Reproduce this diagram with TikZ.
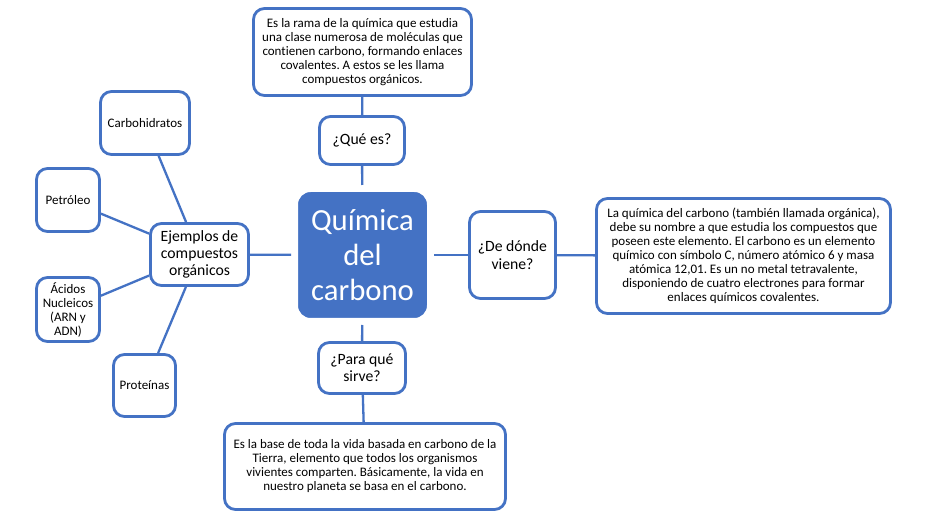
\documentclass[tikz,border=0pt]{standalone}
\usepackage{fontspec}
\setmainfont{Carlito}[Ligatures=NoCommon]
\frenchspacing
\definecolor{azul}{HTML}{4472C4}
\begin{document}
\begin{tikzpicture}[x=1pt,y=-1pt,
  caja/.style={draw=azul, line width=2.8pt, rounded corners=11pt, fill=white, align=center, inner sep=0pt, text=black},
  chico/.style={font=\fontsize{13}{14}\selectfont},
  grande/.style={font=\fontsize{15.7}{17.3}\selectfont},
  enlace/.style={draw=azul, line width=2.3pt},
  centro/.style={fill=azul, draw=white, line width=3pt, rounded corners=14pt, text=white, align=center, inner sep=0pt, font=\fontsize{30.7}{35}\selectfont}]
\useasboundingbox (0,0) rectangle (937,526);
\fill[white] (0,0) rectangle (937,526);
% nodes
\node[centro, minimum width=132pt, minimum height=129pt] (cen) at (362.5,255) {Química\\del\\carbono};
\node[caja, chico, minimum width=218pt, minimum height=87pt] (top) at (362.5,52) {Es la rama de la química que estudia\\una clase numerosa de moléculas que\\contienen carbono, formando enlaces\\covalentes. A estos se les llama\\compuestos orgánicos.};
\node[caja, grande, minimum width=85pt, minimum height=48pt] (que) at (362,140.5) {¿Qué es?};
\node[caja, grande, minimum width=86pt, minimum height=87pt] (donde) at (512.5,255) {¿De dónde\\viene?};
\node[caja, chico, minimum width=294pt, minimum height=115pt] (der) at (743.5,256) {La química del carbono (también llamada orgánica),\\debe su nombre a que estudia los compuestos que\\poseen este elemento. El carbono es un elemento\\químico con símbolo C, número atómico 6 y masa\\atómica 12,01. Es un no metal tetravalente,\\disponiendo de cuatro electrones para formar\\enlaces químicos covalentes.};
\node[caja, grande, minimum width=87pt, minimum height=51pt] (para) at (362,368) {¿Para qué\\sirve?};
\node[caja, chico, minimum width=281pt, minimum height=86pt] (abajo) at (365,466.5) {Es la base de toda la vida basada en carbono de la\\Tierra, elemento que todos los organismos\\vivientes comparten. Básicamente, la vida en\\nuestro planeta se basa en el carbono.};
\node[caja, grande, minimum width=98pt, minimum height=62pt] (ejem) at (199.5,254.5) {Ejemplos de\\compuestos\\orgánicos};
\node[caja, chico, minimum width=89pt, minimum height=63pt] (carbo) at (145,123) {Carbohidratos};
\node[caja, chico, minimum width=63pt, minimum height=63pt] (petro) at (68,200) {Petróleo};
\node[caja, chico, minimum width=63pt, minimum height=64pt] (acidos) at (68,309.5) {Ácidos\\Nucleicos\\(ARN y\\ADN)};
\node[caja, chico, minimum width=62pt, minimum height=62pt] (prot) at (144.5,385.5) {Proteínas};
% connectors
\draw[enlace] (top) -- (que);
\draw[enlace, shorten >=4pt] (que) -- (cen);
\draw[enlace, shorten >=4pt] (para) -- (cen);
\draw[enlace] (para) -- (abajo);
\draw[enlace, shorten >=4pt] (donde) -- (cen);
\draw[enlace] (donde) -- (der);
\draw[enlace, shorten >=4pt] (ejem) -- (cen);
\draw[enlace] (carbo) -- (ejem);
\draw[enlace] (petro) -- (ejem);
\draw[enlace] (acidos) -- (ejem);
\draw[enlace] (prot) -- (ejem);
\end{tikzpicture}
\end{document}
